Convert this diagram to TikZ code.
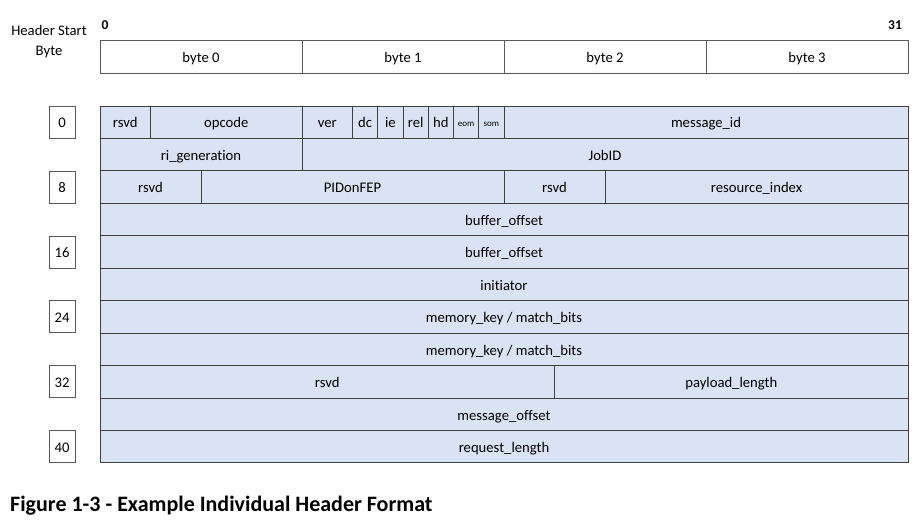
\documentclass[tikz,border=0pt]{standalone}
\usepackage{fontspec}
\setmainfont{Carlito}[Ligatures=NoCommon]
\definecolor{cellfill}{HTML}{DAE3F3}
\definecolor{cellline}{HTML}{404040}
\definecolor{boxline}{HTML}{595959}
\tikzset{
  cell/.style={draw=cellline, fill=cellfill, line width=1pt, inner sep=0pt,
    text height=14.5pt, text depth=3pt, font=\fontsize{14.67}{16}\selectfont},
  bytecell/.style={draw=boxline, fill=white, line width=1pt, inner sep=0pt,
    text height=14.5pt, text depth=3pt,
    minimum height=32pt, minimum width=202pt, font=\fontsize{14.67}{16}\selectfont},
  numbox/.style={draw=boxline, fill=white, line width=1pt, inner sep=0pt,
    text height=14.5pt, text depth=3pt,
    minimum width=26pt, minimum height=32pt, font=\fontsize{14.67}{16}\selectfont},
  tiny/.style={font=\fontsize{9}{10}\selectfont, text height=10pt, text depth=2pt},
  label/.style={inner sep=0pt, font=\fontsize{14.67}{20}\selectfont},
  bitlabel/.style={inner sep=0pt, font=\bfseries\fontsize{13.5}{16}\selectfont},
  caption/.style={inner sep=0pt, anchor=west, font=\bfseries\fontsize{22}{24}\selectfont}
}
\newcommand\hfield[6]{%
  \pgfmathsetmacro\hx{100+25.25*(#3+#4)/2}%
  \pgfmathsetmacro\hy{106+32.45*(#2+0.5)}%
  \pgfmathsetmacro\hw{25.25*(#4-#3)}%
  \node[cell, minimum width=\hw pt, minimum height=32.45pt, #6] (#1) at (\hx pt,-\hy pt) {#5};}
\newcommand\hnum[3]{%
  \pgfmathsetmacro\hy{106+32.45*(#2+0.5)}%
  \node[numbox] (#1) at (62pt,-\hy pt) {#3};}
\begin{document}
\begin{tikzpicture}
\useasboundingbox (0pt,0pt) rectangle (917pt,-519pt);
% header
\node[label, align=center] (hsb) at (49pt,-42pt) {Header Start\\Byte};
\node[bitlabel] (b0) at (105pt,-25pt) {0};
\node[bitlabel] (b31) at (895pt,-25pt) {31};
\node[bytecell] (by0) at (201pt,-57pt) {byte 0};
\node[bytecell] (by1) at (403pt,-57pt) {byte 1};
\node[bytecell] (by2) at (605pt,-57pt) {byte 2};
\node[bytecell] (by3) at (807pt,-57pt) {byte 3};
% row 0
\hfield{r0a}{0}{0}{2}{rsvd}{}
\hfield{r0b}{0}{2}{8}{opcode}{}
\hfield{r0c}{0}{8}{10}{ver}{}
\hfield{r0d}{0}{10}{11}{dc}{}
\hfield{r0e}{0}{11}{12}{ie}{}
\hfield{r0f}{0}{12}{13}{rel}{}
\hfield{r0g}{0}{13}{14}{hd}{}
\hfield{r0h}{0}{14}{15}{eom}{tiny}
\hfield{r0i}{0}{15}{16}{som}{tiny}
\hfield{r0j}{0}{16}{32}{message\_id}{}
% row 1
\hfield{r1a}{1}{0}{8}{ri\_generation}{}
\hfield{r1b}{1}{8}{32}{JobID}{}
% row 2
\hfield{r2a}{2}{0}{4}{rsvd}{}
\hfield{r2b}{2}{4}{16}{PIDonFEP}{}
\hfield{r2c}{2}{16}{20}{rsvd}{}
\hfield{r2d}{2}{20}{32}{resource\_index}{}
% rows 3-7
\hfield{r3}{3}{0}{32}{buffer\_offset}{}
\hfield{r4}{4}{0}{32}{buffer\_offset}{}
\hfield{r5}{5}{0}{32}{initiator}{}
\hfield{r6}{6}{0}{32}{memory\_key / match\_bits}{}
\hfield{r7}{7}{0}{32}{memory\_key / match\_bits}{}
% row 8
\hfield{r8a}{8}{0}{18}{rsvd}{}
\hfield{r8b}{8}{18}{32}{payload\_length}{}
% rows 9-10
\hfield{r9}{9}{0}{32}{message\_offset}{}
\hfield{r10}{10}{0}{32}{request\_length}{}
% left numbers
\hnum{n0}{0}{0}
\hnum{n8}{2}{8}
\hnum{n16}{4}{16}
\hnum{n24}{6}{24}
\hnum{n32}{8}{32}
\hnum{n40}{10}{40}
% caption
\node[caption] (cap) at (10pt,-506pt) {Figure 1-3 - Example Individual Header Format};
\end{tikzpicture}
\end{document}
